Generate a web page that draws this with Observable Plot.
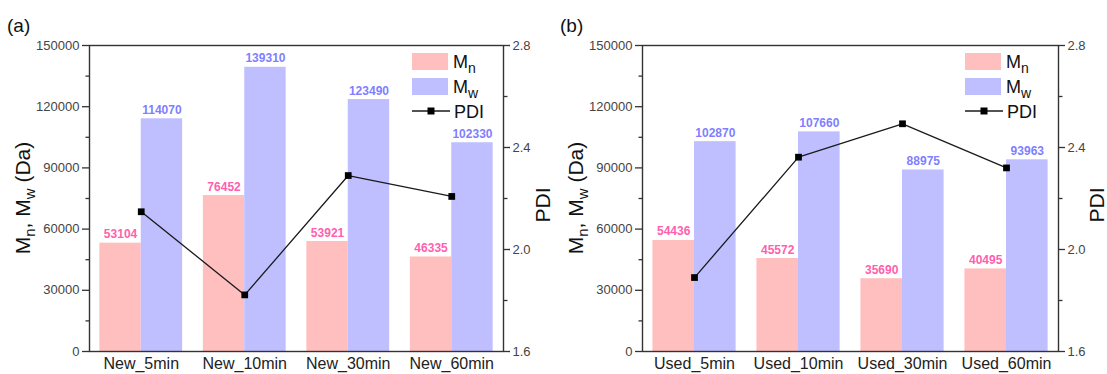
<!DOCTYPE html>
<html><head><meta charset="utf-8">
<script src="https://cdn.jsdelivr.net/npm/d3@7"></script>
<script src="https://cdn.jsdelivr.net/npm/@observablehq/plot@0.6"></script>
<style>
body{margin:0;background:#fff;}
#wrap{display:flex;width:1107px;height:374px;overflow:hidden;}
#wrap svg{display:block;}
</style></head><body><div id="wrap"></div>
<script>
const catsA = ["New_5min","New_10min","New_30min","New_60min"];
const mnA = [53104, 76452, 53921, 46335];
const mwA = [114070, 139310, 123490, 102330];
const pdiA = [2.148, 1.822, 2.290, 2.208];

const catsB = ["Used_5min","Used_10min","Used_30min","Used_60min"];
const mnB = [54436, 45572, 35690, 40495];
const mwB = [102870, 107660, 88975, 93963];
const pdiB = [1.890, 2.362, 2.493, 2.320];

const mTicks = [0, 30000, 60000, 90000, 120000, 150000];
const mMinor = [15000, 45000, 75000, 105000, 135000];
const pdiTicks = [1.6, 2.0, 2.4, 2.8];
const pdiMinor = [1.8, 2.2, 2.6];
const mDomain = [0, 150000];
const pdiDomain = [1.6, 2.8];

const colMn = "#ffbfbf", colMw = "#bfbfff";
const txtMn = "#ff5fae", txtMw = "#7f7fff";
const FONT = "'Liberation Sans', Arial, sans-serif";

const toY = p => (p - pdiDomain[0]) / (pdiDomain[1] - pdiDomain[0]) * (mDomain[1] - mDomain[0]) + mDomain[0];
const fromY = v => (v - mDomain[0]) / (mDomain[1] - mDomain[0]) * (pdiDomain[1] - pdiDomain[0]) + pdiDomain[0];

function panel(tag, cats, mn, mw, pdi, width, mr) {
  const rows = cats.map((c, i) => ({i, c, mn: mn[i], mw: mw[i], pdi: pdi[i]}));
  const svg = Plot.plot({
    width, height: 374,
    marginLeft: 89, marginRight: mr, marginTop: 45, marginBottom: 23,
    x: {type: "linear", domain: [-0.5, 3.5], axis: null},
    y: {domain: mDomain, axis: null},
    style: {fontFamily: FONT, fontSize: "13px", color: "#333", background: "#fff", overflow: "visible"},
    marks: [
      Plot.rect(rows, {x1: d => d.i - 0.4, x2: d => d.i, y1: 0, y2: "mn", fill: colMn}),
      Plot.rect(rows, {x1: d => d.i, x2: d => d.i + 0.4, y1: 0, y2: "mw", fill: colMw}),
      Plot.text(rows, {x: d => d.i - 0.2, y: "mn", text: d => String(d.mn), lineAnchor: "bottom", dy: -5,
        fill: txtMn, fontWeight: "bold", fontSize: 12}),
      Plot.text(rows, {x: d => d.i + 0.2, y: "mw", text: d => String(d.mw), lineAnchor: "bottom", dy: -5,
        fill: txtMw, fontWeight: "bold", fontSize: 12}),
      Plot.line(rows, {x: "i", y: d => toY(d.pdi), stroke: "#1a1a1a", strokeWidth: 1.3}),
      Plot.dot(rows, {x: "i", y: d => toY(d.pdi), symbol: "square", r: 3.8, fill: "#000", stroke: "none"}),
      Plot.frame({stroke: "#333", strokeWidth: 1.4}),
      Plot.axisY({anchor: "left", ticks: mTicks, tickFormat: d => String(d), tickSize: 7, tickPadding: 3, label: null, fontSize: 13, strokeWidth: 1.3, fill: "#444"}),
      Plot.axisY({anchor: "left", ticks: mMinor, tickSize: 3.5, tickFormat: () => "", label: null, strokeWidth: 1.3}),
      Plot.axisY({anchor: "right", ticks: pdiTicks.map(toY), tickFormat: v => fromY(v).toFixed(1),
        tickSize: 6, tickPadding: 3, label: null, fontSize: 13, strokeWidth: 1.3, fill: "#444"}),
      Plot.axisY({anchor: "right", ticks: pdiMinor.map(toY), tickSize: 3.5, tickFormat: () => "", label: null, strokeWidth: 1.3}),
      Plot.axisX({ticks: [0, 1, 2, 3], tickFormat: i => cats[i], tickSize: 0, tickPadding: 6, label: null, fontSize: 16, fill: "#222"})
    ]
  });
  const s = d3.select(svg);
  s.append("text").attr("x", 7).attr("y", 32).attr("font-size", 19).attr("fill", "#111")
    .attr("text-anchor", "start").attr("font-family", FONT).text(tag);
  // left axis label with subscripts
  const yl = s.append("text").attr("transform", "translate(30,198) rotate(-90)")
    .attr("text-anchor", "middle").attr("font-size", 21).attr("fill", "#111").attr("font-family", FONT);
  yl.append("tspan").text("M");
  yl.append("tspan").attr("font-size", 15).attr("dy", 5).text("n");
  yl.append("tspan").attr("dy", -5).text(", M");
  yl.append("tspan").attr("font-size", 15).attr("dy", 5).text("w");
  yl.append("tspan").attr("dy", -5).text(" (Da)");
  // right axis label
  s.append("text").attr("transform", `translate(${width - 3},205) rotate(-90)`)
    .attr("text-anchor", "middle").attr("font-size", 21).attr("fill", "#111").attr("font-family", FONT).text("PDI");
  // legend
  const lg = s.append("g").attr("font-family", FONT).attr("fill", "#111").attr("text-anchor", "start");
  const lx = 412;
  lg.append("rect").attr("x", lx).attr("y", 53).attr("width", 36).attr("height", 17).attr("fill", colMn);
  const t1 = lg.append("text").attr("x", lx + 41).attr("y", 68).attr("font-size", 18);
  t1.append("tspan").text("M"); t1.append("tspan").attr("font-size", 14).attr("dy", 5).text("n");
  lg.append("rect").attr("x", lx).attr("y", 78).attr("width", 36).attr("height", 17).attr("fill", colMw);
  const t2 = lg.append("text").attr("x", lx + 41).attr("y", 93).attr("font-size", 18);
  t2.append("tspan").text("M"); t2.append("tspan").attr("font-size", 14).attr("dy", 5).text("w");
  lg.append("line").attr("x1", lx).attr("x2", lx + 38).attr("y1", 111).attr("y2", 111)
    .attr("stroke", "#1a1a1a").attr("stroke-width", 1.3);
  lg.append("rect").attr("x", lx + 19 - 3.5).attr("y", 111 - 3.5).attr("width", 7).attr("height", 7).attr("fill", "#000");
  lg.append("text").attr("x", lx + 42).attr("y", 118).attr("font-size", 18).text("PDI");
  return svg;
}

const wrap = document.getElementById("wrap");
wrap.appendChild(panel("(a)", catsA, mnA, mwA, pdiA, 553, 50));
wrap.appendChild(panel("(b)", catsB, mnB, mwB, pdiB, 554, 49));
</script></body></html>
